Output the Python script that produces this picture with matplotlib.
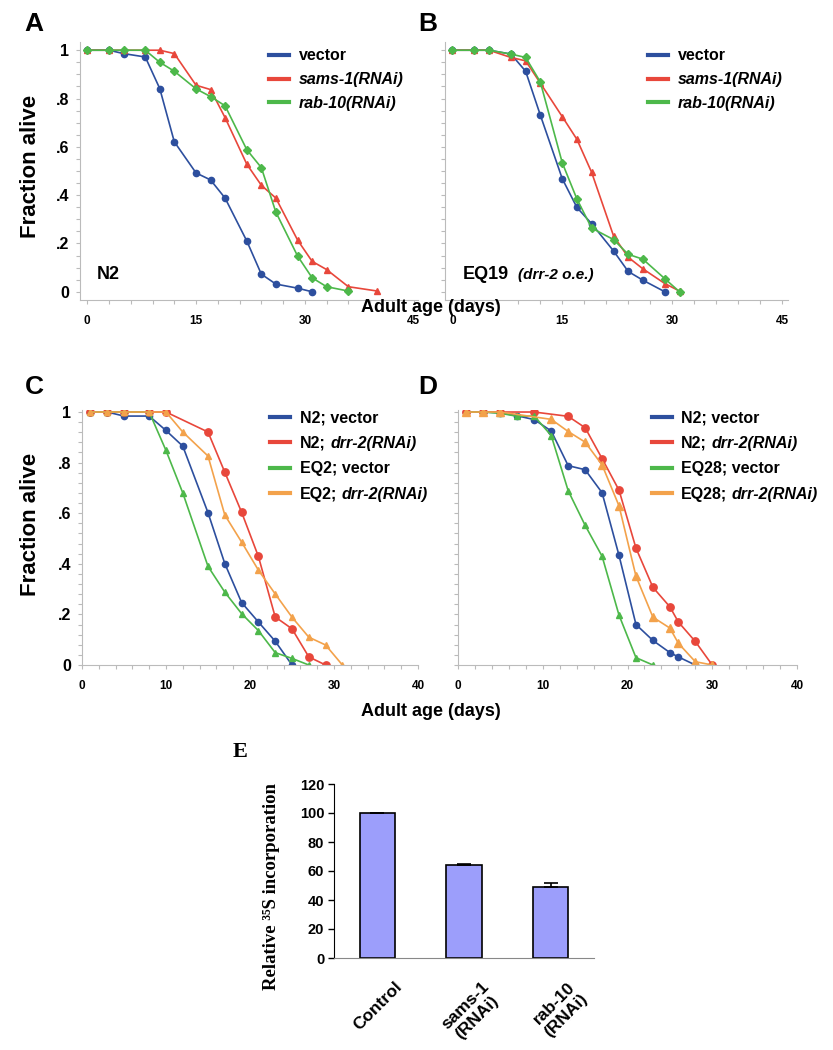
import numpy as np
import matplotlib
matplotlib.use("Agg")
import matplotlib.pyplot as plt
import matplotlib.transforms as mtransforms
from matplotlib.lines import Line2D
from matplotlib.ticker import MultipleLocator

plt.rcParams['font.family'] = ['Liberation Sans', 'DejaVu Sans']
plt.rcParams['font.weight'] = 'bold'

# Panel A (N2)
A_vec_days = [0, 3, 5, 8, 10, 12, 15, 17, 19, 22, 24, 26, 29, 31]
A_vec = [1, 1, 0.986, 0.972, 0.841, 0.621, 0.492, 0.463, 0.388, 0.21, 0.073, 0.032, 0.015, 0]
A_sams_days = [0, 3, 5, 8, 10, 12, 15, 17, 19, 22, 24, 26, 29, 31, 33, 36, 40]
A_sams = [1, 1, 1, 1, 1, 0.986, 0.855, 0.837, 0.721, 0.528, 0.441, 0.388, 0.214, 0.126, 0.092, 0.021, 0.003]
A_rab_days = [0, 3, 5, 8, 10, 12, 15, 17, 19, 22, 24, 26, 29, 31, 33, 36]
A_rab = [1, 1, 1, 1, 0.95, 0.913, 0.84, 0.808, 0.77, 0.588, 0.514, 0.33, 0.148, 0.058, 0.021, 0.003]

# Panel B (EQ19)
B_vec_days = [0, 3, 5, 8, 10, 12, 15, 17, 19, 22, 24, 26, 29]
B_vec = [1, 1, 1, 0.984, 0.913, 0.732, 0.468, 0.349, 0.282, 0.169, 0.084, 0.048, 0]
B_sams_days = [0, 3, 5, 8, 10, 12, 15, 17, 19, 22, 24, 26, 29, 31]
B_sams = [1, 1, 1, 0.97, 0.956, 0.864, 0.725, 0.631, 0.495, 0.231, 0.143, 0.095, 0.034, 0.003]
B_rab_days = [0, 3, 5, 8, 10, 12, 15, 17, 19, 22, 24, 26, 29, 31]
B_rab = [1, 1, 1, 0.984, 0.97, 0.869, 0.534, 0.384, 0.264, 0.216, 0.155, 0.135, 0.054, 0]

# Panel C (N2 / EQ2)
C_n2vec_days = [1, 3, 5, 8, 10, 12, 15, 17, 19, 21, 23, 25]
C_n2vec = [1, 1, 0.984, 0.984, 0.927, 0.865, 0.602, 0.401, 0.247, 0.17, 0.094, 0]
C_n2drr_days = [1, 3, 5, 8, 10, 15, 17, 19, 21, 23, 25, 27, 29]
C_n2drr = [1, 1, 1, 1, 1, 0.921, 0.762, 0.604, 0.429, 0.19, 0.143, 0.032, 0]
C_eqvec_days = [1, 3, 5, 8, 10, 12, 15, 17, 19, 21, 23, 25, 27]
C_eqvec = [1, 1, 1, 1, 0.848, 0.68, 0.39, 0.288, 0.203, 0.136, 0.049, 0.026, 0]
C_eqdrr_days = [1, 3, 5, 8, 10, 12, 15, 17, 19, 21, 23, 25, 27, 29, 31]
C_eqdrr = [1, 1, 1, 1, 1, 0.921, 0.826, 0.593, 0.486, 0.375, 0.281, 0.189, 0.11, 0.079, 0]

# Panel D (N2 / EQ28)
D_n2vec_days = [1, 3, 5, 7, 9, 11, 13, 15, 17, 19, 21, 23, 25, 26, 28]
D_n2vec = [1, 1, 0.997, 0.985, 0.97, 0.925, 0.788, 0.772, 0.681, 0.433, 0.16, 0.097, 0.049, 0.032, 0]
D_n2drr_days = [1, 3, 5, 9, 13, 15, 17, 19, 21, 23, 25, 26, 28, 30]
D_n2drr = [1, 1, 1, 1, 0.983, 0.938, 0.816, 0.691, 0.462, 0.307, 0.23, 0.17, 0.093, 0]
D_eqvec_days = [1, 3, 5, 7, 9, 11, 13, 15, 17, 19, 21, 23]
D_eqvec = [1, 1, 0.995, 0.983, 0.984, 0.907, 0.689, 0.552, 0.43, 0.197, 0.029, 0]
D_eqdrr_days = [1, 3, 5, 11, 13, 15, 17, 19, 21, 23, 25, 26, 28, 30]
D_eqdrr = [1, 1, 1, 0.971, 0.923, 0.881, 0.791, 0.629, 0.351, 0.189, 0.146, 0.086, 0.013, 0]

# Panel E
E_labels = ['Control', 'sams-1\n(RNAi)', 'rab-10\n(RNAi)']
E_values = [100, 64, 49]
E_err = [0, 1, 3]

# legend labels: (upright part, italic part)
AB_legend = [('vector', ''), ('', 'sams-1(RNAi)'), ('', 'rab-10(RNAi)')]
C_legend = [('N2; vector', ''), ('N2;', 'drr-2(RNAi)'), ('EQ2; vector', ''), ('EQ2;', 'drr-2(RNAi)')]
D_legend = [('N2; vector', ''), ('N2;', 'drr-2(RNAi)'), ('EQ28; vector', ''), ('EQ28;', 'drr-2(RNAi)')]

BLUE = '#2D4F9E'
RED = '#E8473B'
GREEN = '#4DB84A'
ORANGE = '#F3A24B'
SPINE = '#BBBBBB'

W, H = 833, 1050
fig = plt.figure(figsize=(W / 100, H / 100), dpi=100)


def px_axes(l, t, r, b):
    return fig.add_axes([l / W, 1 - b / H, (r - l) / W, (b - t) / H])


def style_survival(ax, xmax, xmaj, xmin, ymin_step, ylabels=True):
    for s in ['top', 'right']:
        ax.spines[s].set_visible(False)
    for s in ['left', 'bottom']:
        ax.spines[s].set_color(SPINE)
    ax.set_xticks(np.arange(0, xmax + 1, xmaj))
    ax.xaxis.set_minor_locator(MultipleLocator(xmin))
    ax.set_yticks([0, 0.2, 0.4, 0.6, 0.8, 1])
    ax.yaxis.set_minor_locator(MultipleLocator(ymin_step))
    if ylabels:
        ax.set_yticklabels(['0', '.2', '.4', '.6', '.8', '1'])
    else:
        ax.set_yticklabels([])
    ax.tick_params(axis='x', which='both', colors=SPINE, length=3, width=0.8,
                   labelcolor='black', labelsize=8.5, pad=8)
    ax.tick_params(axis='y', which='both', colors=SPINE, length=3, width=0.8,
                   labelcolor='black', labelsize=11.5, pad=5)


def add_legend(ax, entries, colors, x0, y0, spacing):
    handles = [Line2D([0], [0], color=c, lw=3) for c in colors]
    labels = [a if a else b for a, b in entries]
    leg = ax.legend(handles, labels, loc='upper left', bbox_to_anchor=(x0, y0),
                    frameon=False, fontsize=11.5, handlelength=1.25, handletextpad=0.6,
                    labelspacing=spacing, borderaxespad=0, borderpad=0)
    for txt, (a, b) in zip(leg.get_texts(), entries):
        if not a:
            txt.set_style('italic')
        elif b:
            # italic part placed right after the upright part; drawn after the legend
            ax.annotate(b, xy=(1, 0), xycoords=txt, xytext=(3.3, 0),
                        textcoords='offset points', ha='left', va='bottom',
                        fontsize=11.5, style='italic', zorder=10)
    return leg


ms = 4.5
lw = 1.2

# ---- A ----
axA = px_axes(80, 42, 418, 300)
axA.plot(A_vec_days, A_vec, '-o', color=BLUE, ms=ms, lw=lw)
axA.plot(A_sams_days, A_sams, '-^', color=RED, ms=ms, lw=lw)
axA.plot(A_rab_days, A_rab, '-D', color=GREEN, ms=ms - 0.8, lw=lw)
axA.set_xlim(-1, 45.6)
axA.set_ylim(-0.034, 1.034)
style_survival(axA, 45, 15, 3, 0.05)
add_legend(axA, AB_legend, [BLUE, RED, GREEN], 0.56, 0.976, 0.56)
axA.text(0.05, 0.097, 'N2', transform=axA.transAxes, fontsize=13, va='center')

# ---- B ----
axB = px_axes(445, 42, 788, 300)
axB.plot(B_vec_days, B_vec, '-o', color=BLUE, ms=ms, lw=lw)
axB.plot(B_sams_days, B_sams, '-^', color=RED, ms=ms, lw=lw)
axB.plot(B_rab_days, B_rab, '-D', color=GREEN, ms=ms - 0.8, lw=lw)
axB.set_xlim(-1, 45.8)
axB.set_ylim(-0.034, 1.034)
style_survival(axB, 45, 15, 3, 0.05, ylabels=False)
add_legend(axB, AB_legend, [BLUE, RED, GREEN], 0.593, 0.976, 0.56)
axB.text(0.052, 0.097, 'EQ19', transform=axB.transAxes, fontsize=13, va='center')
axB.text(0.213, 0.097, '(drr-2 o.e.)', transform=axB.transAxes, fontsize=11,
         style='italic', va='center')

# ---- C ----
axC = px_axes(82, 410, 418, 665)
axC.plot(C_n2vec_days, C_n2vec, '-o', color=BLUE, ms=ms, lw=lw)
axC.plot(C_n2drr_days, C_n2drr, '-o', color=RED, ms=ms + 0.8, lw=lw)
axC.plot(C_eqvec_days, C_eqvec, '-^', color=GREEN, ms=ms, lw=lw)
axC.plot(C_eqdrr_days, C_eqdrr, '-^', color=ORANGE, ms=ms, lw=lw)
axC.set_xlim(0, 40)
axC.set_ylim(0, 1.008)
style_survival(axC, 40, 10, 2, 0.04)
add_legend(axC, C_legend, [BLUE, RED, GREEN, ORANGE], 0.56, 0.999, 0.66)

# ---- D ----
axD = px_axes(458, 410, 797, 665)
axD.plot(D_n2vec_days, D_n2vec, '-o', color=BLUE, ms=ms, lw=lw)
axD.plot(D_n2drr_days, D_n2drr, '-o', color=RED, ms=ms + 0.8, lw=lw)
axD.plot(D_eqvec_days, D_eqvec, '-^', color=GREEN, ms=ms, lw=lw)
axD.plot(D_eqdrr_days, D_eqdrr, '-^', color=ORANGE, ms=ms + 0.8, lw=lw)
axD.set_xlim(0, 40)
axD.set_ylim(0, 1.008)
style_survival(axD, 40, 10, 2, 0.04, ylabels=False)
add_legend(axD, D_legend, [BLUE, RED, GREEN, ORANGE], 0.571, 0.999, 0.66)

# shared labels
for yc in [166, 524]:
    fig.text(30 / W, 1 - yc / H, 'Fraction alive', rotation=90, fontsize=16,
             ha='center', va='center')
for yc in [307, 712]:
    fig.text(431 / W, 1 - yc / H, 'Adult age (days)', fontsize=13,
             ha='center', va='center')
for lab, x, y in [('A', 34, 24), ('B', 428, 24), ('C', 34, 387), ('D', 428, 387)]:
    fig.text(x / W, 1 - y / H, lab, fontsize=19, ha='center', va='center')

# ---- E ----
axE = px_axes(334, 784, 594, 958)
xpos = np.arange(len(E_values))
axE.bar(xpos, E_values, width=0.41, color='#9C9EFB', edgecolor='black', lw=1.2,
        yerr=[[0] * len(E_err), E_err], capsize=5,
        error_kw=dict(ecolor='black', elinewidth=1.2, capthick=1.2))
axE.set_xlim(-0.5, 2.5)
axE.set_ylim(0, 120)
axE.set_yticks(np.arange(0, 121, 20))
axE.set_xticks(xpos)
axE.set_xticklabels(E_labels, rotation=45, ha='right', va='top',
                    rotation_mode='anchor', fontsize=12.5, multialignment='center')
axE.tick_params(axis='x', length=0, pad=15)
axE.tick_params(axis='y', length=4, width=1, labelsize=10.5, pad=3)
shift = mtransforms.ScaledTranslation(0.17, 0, fig.dpi_scale_trans)
for lbl in axE.get_xticklabels():
    lbl.set_transform(lbl.get_transform() + shift)
for s in ['top', 'right']:
    axE.spines[s].set_visible(False)
axE.spines['left'].set_color('black')
axE.spines['bottom'].set_color('#888888')
fig.text(272 / W, 1 - 887 / H, 'Relative \u00b3\u2075S incorporation', rotation=90,
         fontsize=13.5, ha='center', va='center',
         family=['Liberation Serif', 'DejaVu Serif'])
fig.text(240 / W, 1 - 752 / H, 'E', fontsize=16, ha='center', va='center',
         family=['Liberation Serif', 'DejaVu Serif'])

fig.savefig('out.png', dpi=100)
